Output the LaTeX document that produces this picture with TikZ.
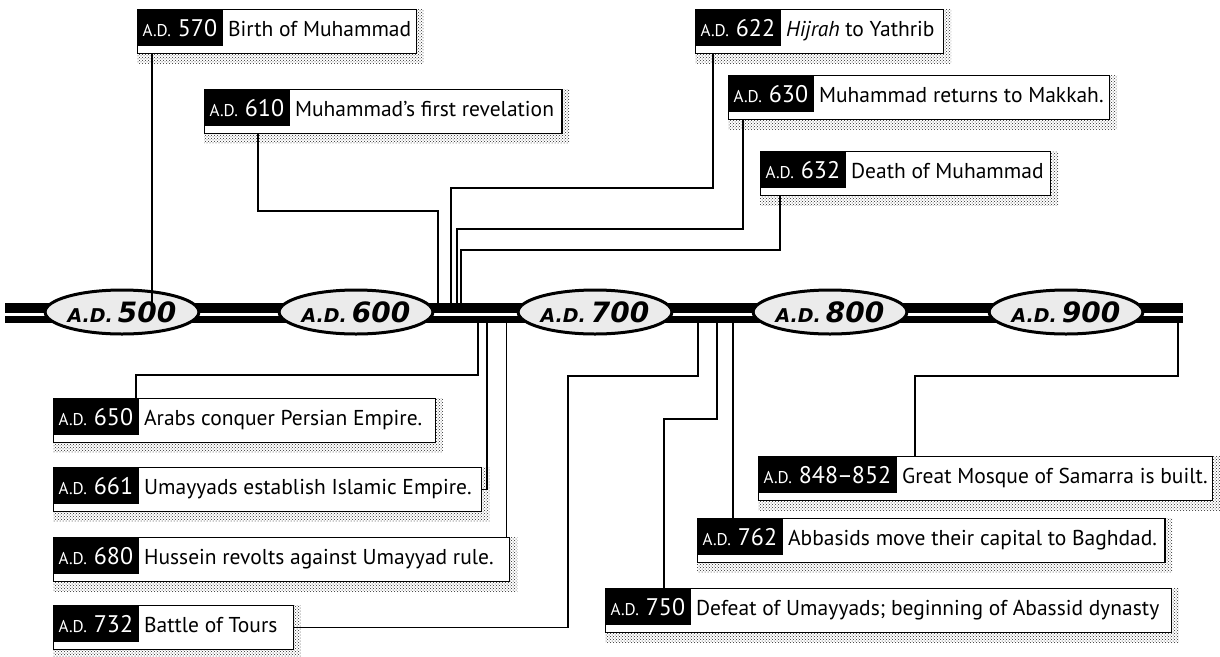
\documentclass[tikz,border=0pt]{standalone}
\usepackage{fontspec}
\setmainfont{PT Sans}
\newfontfamily\yearfont{DejaVu Sans}
\usetikzlibrary{shapes.geometric, patterns, backgrounds}
\newcommand{\adyr}[1]{{\setlength{\fboxsep}{0pt}\colorbox{black}{\rule[-9pt]{0pt}{36pt}\hspace{5pt}\color{white}{\fontsize{17}{17}\selectfont A.D.}\hspace{7pt}{\fontsize{24}{24}\selectfont #1}\hspace{6pt}}}\hspace{5pt}}
\newcommand{\eramark}[1]{{\fontsize{19}{19}\selectfont A.D.}\hspace{5pt}{\fontsize{28}{28}\selectfont #1}}

\begin{document}
\begin{tikzpicture}[x=1pt, y=-1pt,
    event/.style={draw, line width=1.2pt, fill=white, inner sep=0pt, anchor=north west,
                  text depth=17pt, font=\fontsize{21.5}{21.5}\selectfont},
    era/.style={ellipse, draw, line width=3pt, fill=black!8, minimum width=137pt,
                minimum height=44pt, inner sep=0pt, font=\yearfont\bfseries\itshape},
    link/.style={line width=1.2pt},
    shade/.style={pattern=crosshatch dots, pattern color=black!85},
]
\useasboundingbox (0,0) rectangle (1220,656);

% time bar
\node[fill=black, minimum width=1178pt, minimum height=20pt, inner sep=0pt] (bar) at (594,313) {};
\draw[white, line width=2.2pt] ([yshift=-1.5pt]bar.west) -- ([yshift=-1.5pt]bar.east);

% centuries
\node[era] (y500) at (122,312) {\eramark{500}};
\node[era] (y600) at (356,312) {\eramark{600}};
\node[era] (y700) at (595,312) {\eramark{700}};
\node[era] (y800) at (830,312) {\eramark{800}};
\node[era] (y900) at (1066,312) {\eramark{900}};

% events above the bar
\node[event] (e570) at (137,9)   {\adyr{570}Birth of Muhammad\kern5pt};
\node[event] (e610) at (204,89)  {\adyr{610}Muhammad's first revelation\kern8pt};
\node[event] (e622) at (695,9)   {\adyr{622}\textit{Hijrah} to Yathrib\kern9pt};
\node[event] (e630) at (728,75)  {\adyr{630}Muhammad returns to Makkah.\kern6pt};
\node[event] (e632) at (760,151) {\adyr{632}Death of Muhammad\kern7pt};

% events below the bar
\node[event] (e650) at (53,398)  {\adyr{650}Arabs conquer Persian Empire.\kern13pt};
\node[event] (e661) at (53,467)  {\adyr{661}Umayyads establish Islamic Empire.\kern10pt};
\node[event] (e680) at (53,537)  {\adyr{680}Hussein revolts against Umayyad rule.\kern16pt};
\node[event] (e732) at (53,605)  {\adyr{732}Battle of Tours\kern16pt};
\node[event] (e848) at (758,456) {\adyr{848\kern-1pt--\kern-1pt852}Great Mosque of Samarra is built.\kern5pt};
\node[event] (e762) at (697,518) {\adyr{762}Abbasids move their capital to Baghdad.\kern8pt};
\node[event] (e750) at (605,588) {\adyr{750}Defeat of Umayyads; beginning of Abassid dynasty\kern12pt};

% stippled shadows
\begin{scope}[on background layer]
  \foreach \e in {e570,e610,e622,e630,e632,e650,e661,e680,e732,e848,e762,e750}
    \fill[shade] (\e.north west) rectangle ([xshift=7pt,yshift=-9pt]\e.south east);
\end{scope}

% connectors
\coordinate (c570) at ([xshift=15pt]e570.south west);
\coordinate (c610) at ([xshift=54pt]e610.south west);
\coordinate (c622) at ([xshift=18pt]e622.south west);
\coordinate (c630) at ([xshift=15pt]e630.south west);
\coordinate (c632) at ([xshift=20pt]e632.south west);
\coordinate (c650) at ([xshift=83pt]e650.north west);
\coordinate (c680) at ([xshift=-4pt]e680.north east);
\coordinate (c750) at ([xshift=59pt]e750.north west);
\coordinate (c762) at ([xshift=36pt]e762.north west);
\coordinate (c848) at ([xshift=157pt]e848.north west);
\coordinate (k610) at (438,211);
\coordinate (k622) at (451,188);
\coordinate (k630) at (457,229);
\coordinate (k632) at (461,250);
\coordinate (k650) at (478,375);
\coordinate (k661) at (487,489.5);
\coordinate (k732) at (568,376);
\coordinate (m732) at (698,376);
\coordinate (k750) at (717,419);
\coordinate (k848) at (1178,376);

\draw[link] (c570) -- (c570 |- bar.north);
\draw[link] (c610) |- (k610) -- (k610 |- bar.north);
\draw[link] (c622) |- (k622) -- (k622 |- bar.north);
\draw[link] (c630) |- (k630) -- (k630 |- bar.north);
\draw[link] (c632) |- (k632) -- (k632 |- bar.north);
\draw[link] (c650) |- (k650) -- (k650 |- bar.south);
\draw[link] (e661.east) -| (k661) -- (k661 |- bar.south);
\draw[link] (c680) -- (c680 |- bar.south);
\draw[link] (e732.east) -| (k732) -- (m732) -- (m732 |- bar.south);
\draw[link] (c750) |- (k750) -- (k750 |- bar.south);
\draw[link] (c762) -- (c762 |- bar.south);
\draw[link] (c848) |- (k848) -- (k848 |- bar.south);
\end{tikzpicture}
\end{document}
